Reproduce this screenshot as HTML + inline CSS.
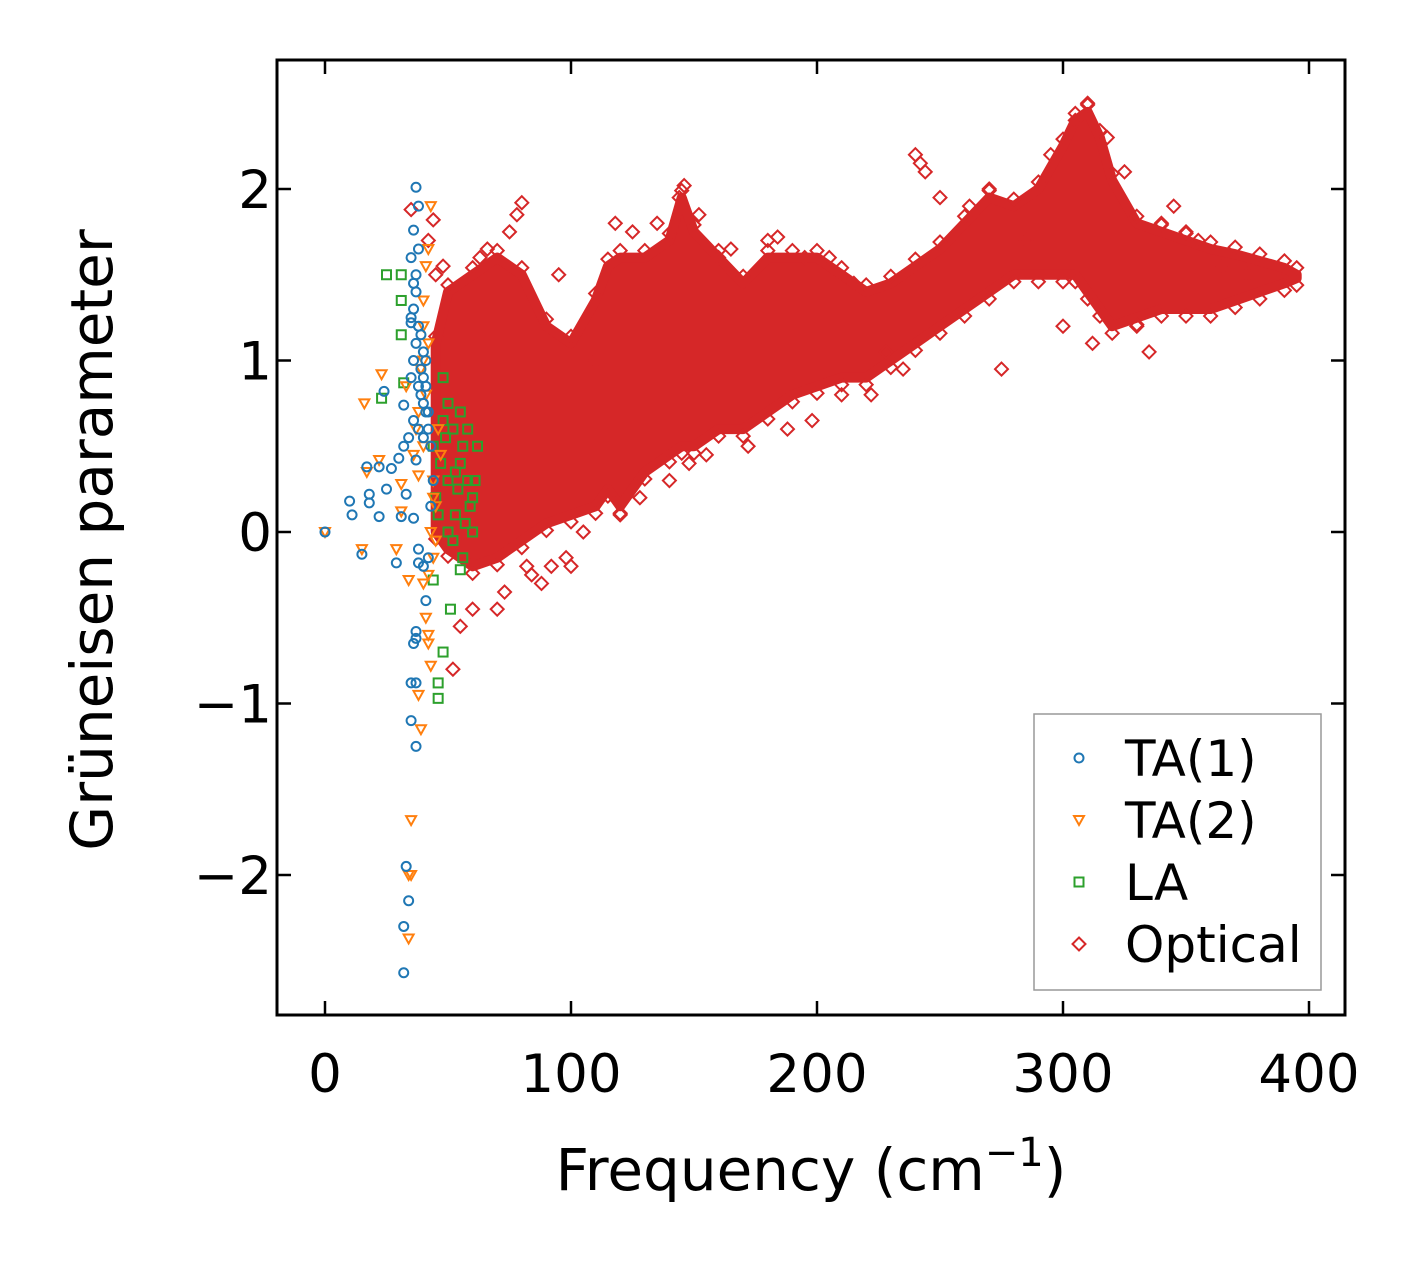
<!DOCTYPE html>
<html><head><meta charset="utf-8"><style>
body{margin:0;background:#fff}
svg{display:block;font-family:"DejaVu Sans","Liberation Sans",sans-serif}
</style></head><body>
<svg id="chart" width="1426" height="1264" viewBox="0 0 1426 1264" xmlns="http://www.w3.org/2000/svg">
<rect width="1426" height="1264" fill="#fff"/>
<g id="marks"></g>
<rect x="277" y="60" width="1068" height="955" fill="none" stroke="#000" stroke-width="3"/>
<g id="axes"></g>
<text x="811" y="1190" font-size="58" text-anchor="middle">Frequency (cm<tspan dy="-24" font-size="40">−1</tspan><tspan dy="24">)</tspan></text>
<text transform="translate(112,540) rotate(-90)" font-size="58" text-anchor="middle">Grüneisen parameter</text>
<g>
<rect x="1034" y="714" width="287" height="276" fill="#fff" stroke="#999" stroke-width="1.5"/>
<g id="legend-items"></g>
</g>
</svg>
<script>
// x: frequency (cm^-1), y: Gruneisen parameter
const xTicks=[0,100,200,300,400];
const yTicks=[-2,-1,0,1,2];
const yTickLabels=['−2','−1','0','1','2'];
// Optical dense band: frequency, lower and upper envelope
const bandFreq=[45,50,60,70,80,90,100,110,115,120,130,140,145,150,160,170,180,190,200,210,220,230,240,250,260,270,280,290,300,305,310,315,320,330,340,350,360,370,380,390,395];
const bandLow=[0.0,-0.1,-0.2,-0.15,-0.05,0.05,0.1,0.15,0.25,0.15,0.35,0.45,0.5,0.5,0.6,0.6,0.7,0.8,0.85,0.9,0.9,1.0,1.1,1.2,1.3,1.4,1.5,1.5,1.5,1.5,1.4,1.3,1.2,1.25,1.3,1.3,1.3,1.35,1.4,1.45,1.48];
const bandHigh=[1.1,1.4,1.5,1.6,1.5,1.2,1.1,1.35,1.55,1.6,1.6,1.7,1.95,1.75,1.6,1.45,1.6,1.6,1.6,1.5,1.4,1.45,1.55,1.65,1.8,1.95,1.9,2.0,2.25,2.4,2.45,2.3,2.05,1.8,1.75,1.7,1.65,1.62,1.58,1.54,1.5];
// Optical outliers
const optX=[35,42,44,45,48,52,55,60,63,66,70,73,75,78,80,82,84,88,92,95,98,100,105,110,118,120,125,128,135,140,144,146,148,152,155,160,165,172,180,184,188,195,198,205,210,215,222,228,235,240,242,244,250,262,270,275,285,295,300,305,310,312,318,325,330,335,340,345,350,355,365,375,392];
const optY=[1.88,1.7,1.82,1.5,1.55,-0.8,-0.55,-0.45,1.6,1.65,-0.45,-0.35,1.75,1.85,1.92,-0.2,-0.25,-0.3,-0.2,1.5,-0.15,-0.2,0.0,1.0,1.8,0.1,1.75,0.2,1.8,0.3,1.95,2.02,0.4,1.85,0.45,1.6,1.65,0.5,1.7,1.72,0.6,1.6,0.65,1.6,0.8,1.45,0.8,1.05,0.95,2.2,2.15,2.1,1.95,1.9,2.0,0.95,1.7,2.2,1.2,2.4,2.5,1.1,2.3,2.1,1.2,1.05,1.8,1.9,1.75,1.7,1.55,1.5,1.5];
// TA(1)
const ta1X=[0,10,11,15,17,18,18,22,22,24,25,27,29,30,31,32,32,33,34,35,35,35,36,36,37,38,37,36,38,38,40,41,37,37,36,35,37,35,37,33,34,32,32,36,37,38,39,40,41,36,37,38,39,40,42,36,38,40,41,37,39,40,42,35,38,41,43,44,43,42];
const ta1Y=[0,0.18,0.1,-0.13,0.38,0.22,0.17,0.09,0.38,0.82,0.25,0.37,-0.18,0.43,0.09,0.5,0.74,0.22,0.55,0.9,1.25,1.6,1.76,1.45,2.01,1.9,0.42,0.08,-0.1,-0.18,-0.2,-0.4,-0.58,-0.62,-0.65,-0.88,-0.88,-1.1,-1.25,-1.95,-2.15,-2.3,-2.57,1.0,1.1,1.2,0.95,0.9,0.85,1.3,1.4,1.65,0.8,0.75,0.7,0.65,0.6,1.05,1.0,1.5,1.15,0.55,0.6,1.22,0.85,0.7,0.5,0.3,0.15,-0.15];
// TA(2)
const ta2X=[0,15,16,17,22,23,29,31,31,33,34,35,34,35,34,38,39,40,41,42,43,42,45,40,41,42,43,40,42,38,40,44,45,36,38,43,44,39,41,46,47,44,42,40,37];
const ta2Y=[0,-0.1,0.75,0.35,0.42,0.92,-0.1,0.28,0.12,0.85,-0.28,-1.68,-2.0,-2.0,-2.37,-0.95,-1.15,-0.3,-0.5,-0.6,-0.78,-0.65,-0.05,1.35,1.55,1.65,1.9,1.2,1.1,0.7,0.5,0.3,0.15,0.45,0.33,0.0,-0.15,0.95,0.8,0.6,0.45,0.2,-0.25,1.0,0.6];
// LA
const laX=[23,25,31,31,31,32,44,46,46,48,51,55,48,50,52,55,56,58,60,62,53,50,47,45,55,57,60,52,49,54,58,61,46,50,56,59,44,48,53];
const laY=[0.78,1.5,1.5,1.35,1.15,0.87,-0.28,-0.88,-0.97,-0.7,-0.45,-0.22,0.9,0.75,0.6,0.7,0.5,0.3,0.2,0.5,0.1,0.0,0.4,0.2,0.4,0.05,0.0,-0.05,0.55,0.25,0.6,0.3,0.1,0.3,-0.15,0.15,0.5,0.65,0.35];

const NS='http://www.w3.org/2000/svg';
const X0=277,X1=1345,Y0=60,Y1=1015;
function sx(v){return 325+v*2.46;}
function sy(v){return 532-v*171.5;}
const marks=document.getElementById('marks');
const axes=document.getElementById('axes');
function mk(tag,attrs,parent){const e=document.createElementNS(NS,tag);for(const k in attrs)e.setAttribute(k,attrs[k]);parent.appendChild(e);return e;}
const C={ta1:'#1f77b4',ta2:'#ff7f0e',la:'#2ca02c',opt:'#d62728'};
function marker(type,x,y,g){
  let e;
  if(type==='ta1'){e=mk('circle',{cx:x,cy:y,r:4.5,fill:'none',stroke:C.ta1,'stroke-width':2},g);}
  else if(type==='ta2'){e=mk('path',{d:`M${x-5},${y-4}L${x+5},${y-4}L${x},${y+5}Z`,fill:'none',stroke:C.ta2,'stroke-width':2},g);}
  else if(type==='la'){e=mk('rect',{x:x-4.5,y:y-4.5,width:9,height:9,fill:'none',stroke:C.la,'stroke-width':2},g);}
  else {e=mk('path',{d:`M${x},${y-6.5}L${x+6.5},${y}L${x},${y+6.5}L${x-6.5},${y}Z`,fill:'none',stroke:C.opt,'stroke-width':2},g);}
  return e;
}
let d='';
for(let i=0;i<bandFreq.length;i++)d+=(i?'L':'M')+sx(bandFreq[i])+','+sy(bandHigh[i]);
for(let i=bandFreq.length-1;i>=0;i--)d+='L'+sx(bandFreq[i])+','+sy(bandLow[i]);
const band=mk('path',{d:d+'Z',fill:C.opt,stroke:C.opt,'stroke-width':10,'stroke-linejoin':'round'},marks);


const gOpt=mk('g',{},marks);


for(let i=0;i<bandFreq.length;i++){marker('opt',sx(bandFreq[i]),sy(bandHigh[i])-7,gOpt);marker('opt',sx(bandFreq[i]),sy(bandLow[i])+7,gOpt);}
for(let i=0;i<optX.length;i++)marker('opt',sx(optX[i]),sy(optY[i]),gOpt);
const gLA=mk('g',{},marks);


for(let i=0;i<laX.length;i++)marker('la',sx(laX[i]),sy(laY[i]),gLA);
const gTA2=mk('g',{},marks);


for(let i=0;i<ta2X.length;i++)marker('ta2',sx(ta2X[i]),sy(ta2Y[i]),gTA2);
const gTA1=mk('g',{},marks);


for(let i=0;i<ta1X.length;i++)marker('ta1',sx(ta1X[i]),sy(ta1Y[i]),gTA1);
xTicks.forEach(v=>{
  const x=sx(v);
  mk('line',{x1:x,x2:x,y1:Y1,y2:Y1-14,stroke:'#000','stroke-width':2.5},axes);
  mk('line',{x1:x,x2:x,y1:Y0,y2:Y0+14,stroke:'#000','stroke-width':2.5},axes);
  const t=mk('text',{x:x,y:1092,'font-size':53,'text-anchor':'middle'},axes);
  t.textContent=String(v);
  
  
});
yTicks.forEach((v,i)=>{
  const y=sy(v);
  mk('line',{x1:X0,x2:X0+14,y1:y,y2:y,stroke:'#000','stroke-width':2.5},axes);
  mk('line',{x1:X1,x2:X1-14,y1:y,y2:y,stroke:'#000','stroke-width':2.5},axes);
  const t=mk('text',{x:272,y:y+19,'font-size':53,'text-anchor':'end'},axes);
  t.textContent=yTickLabels[i];
  
  
});
const legendLabels=['TA(1)','TA(2)','LA','Optical'];
const legendTypes=['ta1','ta2','la','opt'];
const li=document.getElementById('legend-items');
legendLabels.forEach((lab,i)=>{
  const y=758+i*62;
  const g=mk('g',{},li);
  
  
  marker(legendTypes[i],1079,y,g);
  const t=mk('text',{x:1125,y:y+18,'font-size':50},g);
  t.textContent=lab;
});
</script>
</body></html>
